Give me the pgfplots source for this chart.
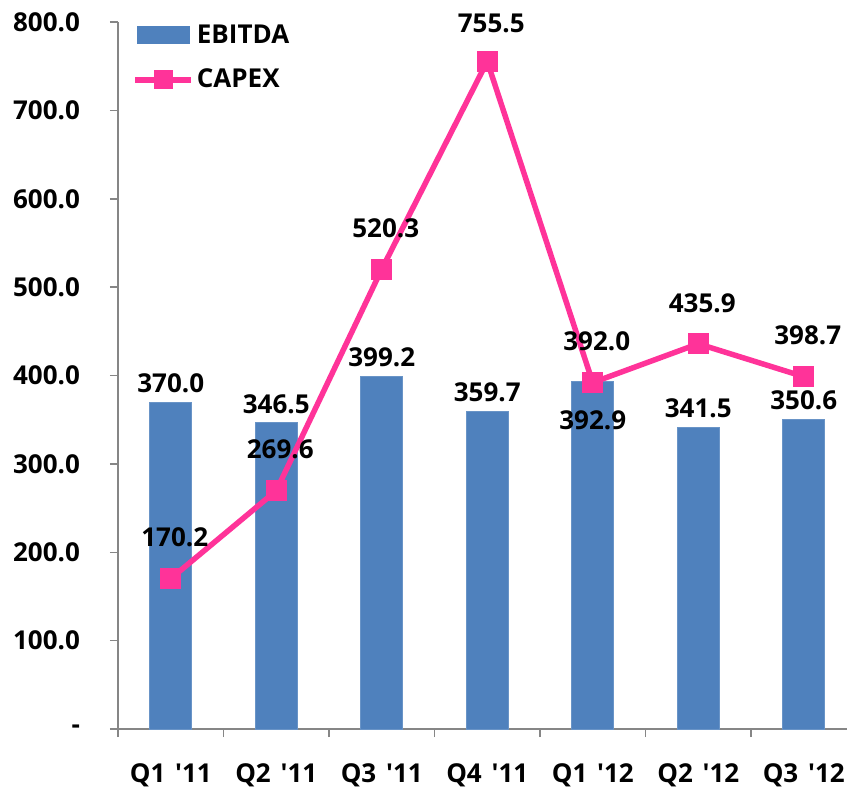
\documentclass[border=0pt]{standalone}
\usepackage{fontspec}
\setmainfont{Open Sans}[Ligatures=TeXOff]
\usepackage{pgfplots}
\pgfplotsset{compat=1.18}
\definecolor{barblue}{HTML}{4F81BD}
\definecolor{capex}{HTML}{FF3399}
\definecolor{axgray}{HTML}{868686}
\pgfplotsset{
  barlegend/.style={legend image code/.code={\fill[barblue] (0pt,-4.25pt) rectangle (26pt,4.25pt);}},
  linelegend/.style={legend image code/.code={\draw[##1, mark size=4.5pt, mark repeat=2, mark phase=2] plot coordinates {(-1pt,0pt) (13pt,0pt) (27pt,0pt)};}},
}
\begin{document}
\begin{tikzpicture}[font=\fontsize{13}{15}\selectfont\bfseries]
\begin{axis}[
 at={(0,0)}, anchor=south west,
 scale only axis, width=364.5pt, height=353.5pt,
 xmin=-0.5, xmax=6.41, ymin=0, ymax=800,
 clip=false,
 axis x line=bottom, axis y line=left,
 axis line style={-, draw=axgray, line width=0.75pt},
 tick style={draw=axgray, line width=0.75pt},
 tick align=outside,
 major tick length=4pt, minor tick length=4pt,
 ytick={0,100,...,800},
 yticklabels={-,100.0,200.0,300.0,400.0,500.0,600.0,700.0,800.0},
 xtick={0,...,6},
 xticklabels={{Q1\hspace{1.5pt} '11},{Q2\hspace{1.5pt} '11},{Q3\hspace{1.5pt} '11},{Q4\hspace{1.5pt} '11},{Q1\hspace{1.5pt} '12},{Q2\hspace{1.5pt} '12},{Q3\hspace{1.5pt} '12}},
 every major x tick/.append style={draw=none},
 minor xtick={-0.5,0.5,...,5.5},
 xticklabel style={anchor=base, yshift=-22.5pt},
 yticklabel style={anchor=east, xshift=-11.5pt},
 /pgf/number format/assume math mode=true,
 legend style={at={(axis description cs:0,1)}, anchor=north west, draw=none, fill=none,
   xshift=4pt, yshift=3pt, row sep=7.5pt, nodes={inner xsep=1.5pt},
   font=\fontsize{13}{15}\selectfont\bfseries},
 legend cell align=left,
]
\addplot[ybar, bar width=0.4, fill=barblue, draw=barblue!85!white, barlegend]
  coordinates {(0,370.0) (1,346.5) (2,399.2) (3,359.7) (4,392.9) (5,341.5) (6,350.6)};
\addlegendentry{EBITDA}
\addplot[capex, line width=2.75pt, mark=square*, mark size=5pt,
  mark options={solid, line width=0pt}, linelegend]
  coordinates {(0,170.2) (1,269.6) (2,520.3) (3,755.5) (4,392.0) (5,435.9) (6,398.7)};
\addlegendentry{CAPEX}
% bar labels
\node at (axis cs:0,370.0) [yshift=9.5pt] {370.0};
\node at (axis cs:1,346.5) [yshift=9.5pt] {346.5};
\node at (axis cs:2,399.2) [yshift=9.5pt] {399.2};
\node at (axis cs:3,359.7) [yshift=9.5pt] {359.7};
\node at (axis cs:4,392.9) [yshift=-19pt] {392.9};
\node at (axis cs:5,341.5) [yshift=9.5pt] {341.5};
\node at (axis cs:6,350.6) [yshift=9.5pt] {350.6};
% capex labels
\node at (axis cs:0,170.2) [yshift=20.5pt, xshift=2pt] {170.2};
\node at (axis cs:1,269.6) [yshift=20.5pt, xshift=2pt] {269.6};
\node at (axis cs:2,520.3) [yshift=20.5pt, xshift=2pt] {520.3};
\node at (axis cs:3,755.5) [yshift=19pt, xshift=2pt] {755.5};
\node at (axis cs:4,392.0) [yshift=20.5pt, xshift=2pt] {392.0};
\node at (axis cs:5,435.9) [yshift=20.5pt, xshift=2pt] {435.9};
\node at (axis cs:6,398.7) [yshift=20.5pt, xshift=2pt] {398.7};
\end{axis}
\pgfresetboundingbox
\path[use as bounding box] (-59pt,-30pt) rectangle (364.5pt,364.5pt);
\end{tikzpicture}
\end{document}
